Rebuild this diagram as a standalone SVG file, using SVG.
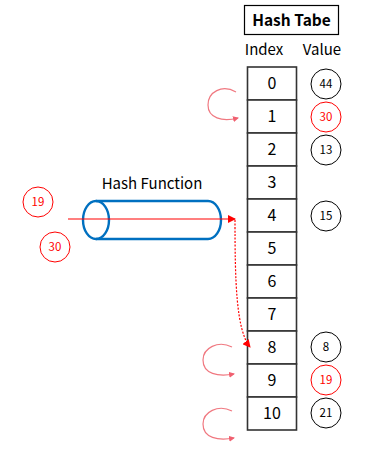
<svg xmlns="http://www.w3.org/2000/svg" width="387" height="458" viewBox="0 0 387 458">
<defs>
<style>
text{font-family:"Noto Sans CJK KR","Liberation Sans",sans-serif;text-anchor:middle}
.cell{fill:#fff;stroke:#333;stroke-width:1.6}
.idx{font-size:16px;fill:#000}
.vc{fill:#fff;stroke:#000;stroke-width:1}
.vr{fill:#fff;stroke:#ff0000;stroke-width:1}
.vt{font-size:11.5px;fill:#000}
.vtr{font-size:11.5px;fill:#ff0000}
.curl{fill:none;stroke:#f07880;stroke-width:1.2}
</style>
<marker id="ah" markerWidth="8" markerHeight="8" refX="7" refY="4" orient="auto" markerUnits="userSpaceOnUse">
<path d="M0,0 L8,4 L0,8 Z" fill="#ff0000"/>
</marker>
<marker id="ahs" markerWidth="6" markerHeight="6" refX="5" refY="3" orient="auto" markerUnits="userSpaceOnUse">
<path d="M0,0 L6,3 L0,6 Z" fill="#f06070"/>
</marker>
</defs>
<g id="title">
<rect x="244.5" y="5.5" width="94" height="29" fill="#fff" stroke="#000" stroke-width="1.2"/>
<text x="291.5" y="26" style="font-size:15.5px;font-weight:bold">Hash Tabe</text>
<text x="264" y="55" style="font-size:15px">Index</text>
<text x="322" y="55" style="font-size:15px">Value</text>
</g>
<g id="table">
<rect class="cell" x="247.5" y="67" width="49" height="33"/><text class="idx" x="272" y="89">0</text>
<rect class="cell" x="247.5" y="100" width="49" height="33"/><text class="idx" x="272" y="122">1</text>
<rect class="cell" x="247.5" y="133" width="49" height="33"/><text class="idx" x="272" y="155">2</text>
<rect class="cell" x="247.5" y="166" width="49" height="33"/><text class="idx" x="272" y="188">3</text>
<rect class="cell" x="247.5" y="199" width="49" height="33"/><text class="idx" x="272" y="221">4</text>
<rect class="cell" x="247.5" y="232" width="49" height="33"/><text class="idx" x="272" y="254">5</text>
<rect class="cell" x="247.5" y="265" width="49" height="33"/><text class="idx" x="272" y="287">6</text>
<rect class="cell" x="247.5" y="298" width="49" height="33"/><text class="idx" x="272" y="320">7</text>
<rect class="cell" x="247.5" y="331" width="49" height="33"/><text class="idx" x="272" y="353">8</text>
<rect class="cell" x="247.5" y="364" width="49" height="33"/><text class="idx" x="272" y="386">9</text>
<rect class="cell" x="247.5" y="397" width="49" height="33"/><text class="idx" x="272" y="419">10</text>
</g>
<g id="values">
<circle class="vc" cx="326" cy="84" r="15"/><text class="vt" x="326" y="88">44</text>
<circle class="vr" cx="326" cy="117" r="15"/><text class="vtr" x="326" y="121">30</text>
<circle class="vc" cx="326" cy="150" r="15"/><text class="vt" x="326" y="154">13</text>
<circle class="vc" cx="326" cy="216" r="15"/><text class="vt" x="326" y="220">15</text>
<circle class="vc" cx="326" cy="347" r="15"/><text class="vt" x="326" y="351">8</text>
<circle class="vr" cx="326" cy="380" r="15"/><text class="vtr" x="326" y="384">19</text>
<circle class="vc" cx="326" cy="413" r="15"/><text class="vt" x="326" y="417">21</text>
</g>
<g id="hash-function">
<text x="152" y="189" style="font-size:15px">Hash Function</text>
<path d="M96,201 L208,201 A13,19 0 0 1 208,239 L96,239" fill="none" stroke="#0070c0" stroke-width="2.4"/>
<ellipse cx="96" cy="220" rx="13" ry="19" fill="none" stroke="#0070c0" stroke-width="2.4"/>
</g>
<g id="keys">
<circle class="vr" cx="38" cy="202" r="15"/><text class="vtr" x="38" y="206">19</text>
<circle class="vr" cx="55" cy="247" r="15"/><text class="vtr" x="55" y="251">30</text>
</g>
<g id="connectors">
<line x1="68" y1="219" x2="235" y2="219" stroke="#ff0000" stroke-width="1.2" marker-end="url(#ah)"/>
<path d="M235,220 C235,280 236,330 250,347" fill="none" stroke="#ff0000" stroke-width="1.2" stroke-dasharray="2,1.5" marker-end="url(#ah)"/>
<path class="curl" d="M236,92 C222,84 208,92 208,105 C208,118 222,122 238,118" marker-end="url(#ahs)"/>
<path class="curl" d="M232,347 C218,340 203,348 203,360 C203,374 218,377 234,374" marker-end="url(#ahs)"/>
<path class="curl" d="M232,411 C218,404 203,412 203,424 C203,438 218,441 234,438" marker-end="url(#ahs)"/>
</g>
</svg>
